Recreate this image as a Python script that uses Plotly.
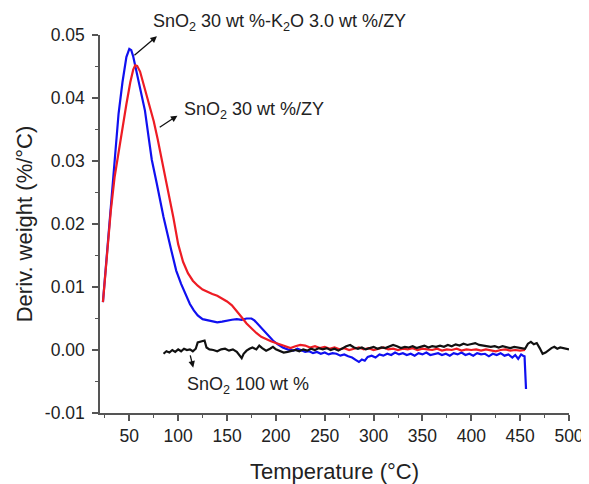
import plotly.graph_objects as go

# ---- data ----
blue_T = [23, 28, 32, 35, 39, 43, 47, 50, 52, 54, 57, 60, 63, 64, 66, 70, 73, 78, 85, 93, 98, 103, 108, 112, 116,
          120, 125, 130, 135, 140, 145, 150, 155, 160, 165, 170, 175, 178, 182, 187, 192, 197, 202, 207, 212, 218,
          222, 226, 230, 234, 238, 242, 246, 250, 254, 258, 262, 266, 270, 274, 278, 282, 285, 288, 291, 294, 298,
          302, 306, 310, 314, 318, 322, 326, 330, 334, 338, 342, 346, 350, 354, 358, 362, 366, 370, 374, 378, 382,
          386, 390, 394, 398, 402, 406, 410, 414, 418, 422, 426, 430, 434, 438, 442, 445, 448, 451, 453, 454.5, 456]
blue_v = [0.0076, 0.017, 0.025, 0.030, 0.0375, 0.0425, 0.0465, 0.0478, 0.0476, 0.0466, 0.0445, 0.0422, 0.0400,
          0.0395, 0.0380, 0.0335, 0.0302, 0.0265, 0.0211, 0.0158, 0.0126, 0.0105, 0.0086, 0.0073, 0.0063, 0.0055,
          0.0049, 0.0047, 0.0045, 0.0044, 0.0045, 0.0047, 0.0048, 0.0049, 0.0048, 0.0050, 0.0050, 0.0047, 0.0040,
          0.0031, 0.0022, 0.0015, 0.0009, 0.0004, 0.0001, -0.0001,
          0.0002, -0.0001, -0.0003, -0.0002, -0.0005, -0.0003, -0.0006, -0.0004, -0.0007, -0.0005, -0.0006, -0.0009,
          -0.0007, -0.0010, -0.0012, -0.0016, -0.0019, -0.0015, -0.0017, -0.0011, -0.0009, -0.0012, -0.0007,
          -0.0009, -0.0006, -0.0008, -0.0004, -0.0007, -0.0005, -0.0008, -0.0006, -0.0009, -0.0005, -0.0007,
          -0.0004, -0.0008, -0.0006, -0.0005, -0.0008, -0.0006, -0.0009, -0.0005, -0.0007, -0.0004, -0.0008,
          -0.0006, -0.0009, -0.0005, -0.0007, -0.0006, -0.0010, -0.0006, -0.0008, -0.0005, -0.0009, -0.0007,
          -0.0012, -0.0008, -0.0014, -0.0007, -0.0009, -0.0010, -0.0062]

red_T = [23, 27, 31, 35, 39, 43, 47, 51, 54, 56, 58, 61, 64, 67, 71, 75, 79, 83, 88, 95, 100, 105, 110, 115, 120,
         125, 130, 135, 140, 145, 150, 155, 160, 165, 170, 175, 180, 185, 190, 195, 200, 205, 210, 215, 220, 225,
         230, 235, 240, 245, 250, 255, 260, 265, 270, 275, 280, 285, 290, 295, 300, 305, 310, 315, 320, 325, 330,
         335, 340, 345, 350, 355, 360, 365, 370, 375, 380, 385, 390, 395, 400, 405, 410, 415, 420, 425, 430, 435,
         440, 445, 450, 455]
red_v = [0.0076, 0.015, 0.022, 0.0275, 0.0315, 0.0355, 0.039, 0.0425, 0.0445, 0.0452, 0.0451, 0.0442, 0.0425,
         0.0408, 0.0385, 0.0363, 0.0335, 0.0302, 0.0265, 0.0211, 0.0168, 0.0140, 0.0122, 0.0110, 0.0102, 0.0096,
         0.0092, 0.0089, 0.0086, 0.0082, 0.0077, 0.0071, 0.0062, 0.0052, 0.0042, 0.0034, 0.0027, 0.0021, 0.0017,
         0.0014, 0.0011, 0.0008, 0.0005, 0.0003, 0.0006, 0.0008,
         0.0007, 0.0004, 0.0006, 0.0003, 0.0005, 0.0002, 0.0004, 0.0001, 0.0003, 0.0000, 0.0002, 0.0004, 0.0001,
         0.0003, 0.0000, 0.0002, 0.0004, 0.0001, 0.0002, 0.0000, 0.0002, 0.0001, 0.0003, 0.0000, 0.0002, 0.0001,
         0.0000, 0.0002, -0.0001, 0.0001, 0.0000, 0.0002, -0.0001, 0.0001, 0.0000, 0.0001, -0.0001, 0.0001,
         0.0000, -0.0002, 0.0000, 0.0001, -0.0001, 0.0000, -0.0001, 0.0000]

black_T = [85, 88, 91, 94, 97, 100, 103, 106, 109, 112, 115, 118, 120, 124, 127, 129, 132, 136, 140, 144, 148, 152,
           156, 160, 163, 165, 167, 170, 173, 176, 180, 183, 186, 190, 194, 197, 200, 204, 208, 212, 216, 220,
           224, 228, 232, 236, 240, 244, 248, 252, 256, 260, 264, 268, 272, 276, 280, 284, 288, 292, 296, 300,
           304, 308, 312, 316, 320, 324, 328, 332, 336, 340, 344, 348, 352, 356, 360, 364, 368, 372, 376, 380,
           384, 388, 392, 396, 400, 404, 408, 412, 416, 420, 424, 428, 432, 436, 440, 444, 448, 452, 455, 458,
           461, 464, 467, 470, 473, 476, 479, 482, 485, 488, 491, 494, 497, 500]
black_v = [-0.0006, -0.0002, -0.0004, 0.0000, -0.0003, 0.0001, -0.0002, 0.0002, 0.0000, 0.0001, -0.0002, 0.0002,
           0.0012, 0.0014, 0.0015, 0.0004, 0.0001, 0.0000, -0.0002, 0.0001, 0.0002, -0.0001, 0.0001, -0.0003,
           -0.0010, -0.0013, -0.0006, -0.0001, 0.0002, 0.0004, 0.0001, 0.0007, 0.0003, -0.0001, 0.0002, 0.0005,
           0.0001, -0.0001, -0.0004, -0.0003, -0.0002, 0.0000,
           -0.0002, 0.0001, -0.0001, 0.0002, 0.0000, 0.0003, 0.0001, 0.0003, 0.0000, 0.0002, -0.0001, 0.0003,
           0.0006, 0.0008, 0.0004, 0.0002, 0.0004, 0.0001, 0.0003, 0.0005, 0.0002, 0.0004, 0.0003, 0.0005, 0.0008,
           0.0006, 0.0003, 0.0005, 0.0004, 0.0006, 0.0003, 0.0005, 0.0007, 0.0004, 0.0006, 0.0005, 0.0007, 0.0005,
           0.0008, 0.0006, 0.0009, 0.0007, 0.0010, 0.0008, 0.0009, 0.0011, 0.0008, 0.0007, 0.0006, 0.0005, 0.0006,
           0.0004, 0.0006, 0.0005, 0.0003, 0.0005, 0.0004, 0.0003, 0.0002, 0.0010, 0.0013, 0.0009, 0.0011, 0.0003,
           -0.0006, -0.0004, 0.0000, 0.0003, 0.0005, 0.0002, 0.0004, 0.0003, 0.0001, 0.0001]

x_tick_vals = [50, 100, 150, 200, 250, 300, 350, 400, 450, 500]
y_tick_vals = [-0.01, 0.00, 0.01, 0.02, 0.03, 0.04, 0.05]
y_tick_labels = ["-0.01", "0.00", "0.01", "0.02", "0.03", "0.04", "0.05"]

label_blue = "SnO<sub>2</sub> 30 wt %-K<sub>2</sub>O 3.0 wt %/ZY"
label_red = "SnO<sub>2</sub> 30 wt %/ZY"
label_black = "SnO<sub>2</sub> 100 wt %"

FONT = "Arial, Liberation Sans, sans-serif"
AX = "#555555"

fig = go.Figure()
fig.add_trace(go.Scatter(x=blue_T, y=blue_v, mode="lines", line=dict(color="#1010f0", width=2.2)))
fig.add_trace(go.Scatter(x=red_T, y=red_v, mode="lines", line=dict(color="#ee1c24", width=2.2)))
fig.add_trace(go.Scatter(x=black_T, y=black_v, mode="lines", line=dict(color="#111111", width=2.2)))

arrow = dict(showarrow=True, arrowhead=2, arrowsize=1, arrowwidth=1.3, arrowcolor="#111111",
             axref="x", ayref="y", xref="x", yref="y", text="")
fig.add_annotation(x=78.3, y=0.0498, ax=53.7, ay=0.0466, **arrow)
fig.add_annotation(x=99.2, y=0.0372, ax=79.6, ay=0.0352, **arrow)
fig.add_annotation(x=115.4, y=-0.0028, ax=112, ay=-0.0006, **arrow)

txt = dict(showarrow=False, xanchor="left", yanchor="middle", xref="x",
           font=dict(family=FONT, size=18, color="#222222"))
fig.add_annotation(x=72.5, y=1.032, yref="paper", text=label_blue, **txt)
fig.add_annotation(x=104, y=0.0380, yref="y", text=label_red, **txt)
fig.add_annotation(x=107.5, y=-0.0057, yref="y", text=label_black, **txt)

# the page body adds an 8px offset, so the figure is sized to fit the window exactly
fig.update_layout(
    width=581, height=476,
    margin=dict(l=92, r=20, t=27, b=71),
    paper_bgcolor="white", plot_bgcolor="white",
    showlegend=False,
    font=dict(family=FONT, size=17.5, color="#222222"),
)
fig.update_xaxes(
    range=[20, 500], tickvals=x_tick_vals, showgrid=False, zeroline=False, automargin=False,
    showline=True, linecolor=AX, linewidth=1.5,
    ticks="outside", ticklen=6, tickwidth=1.5, tickcolor=AX,
    minor=dict(ticks="outside", ticklen=3.5, tickwidth=1.3, tickcolor=AX, dtick=25, tick0=25, showgrid=False),
    tickfont=dict(family=FONT, size=17.5, color="#222222"),
    title=dict(text="Temperature (°C)", font=dict(family=FONT, size=22, color="#222222"), standoff=19),
)
fig.update_yaxes(
    range=[-0.01, 0.05], tickvals=y_tick_vals, ticktext=y_tick_labels, showgrid=False, zeroline=False,
    automargin=False, ticklabelstandoff=4,
    showline=True, linecolor=AX, linewidth=1.5,
    ticks="outside", ticklen=6, tickwidth=1.5, tickcolor=AX,
    minor=dict(ticks="outside", ticklen=3.5, tickwidth=1.3, tickcolor=AX, dtick=0.005, tick0=0.005, showgrid=False),
    tickfont=dict(family=FONT, size=17.5, color="#222222"),
    title=dict(text="Deriv. weight (%/°C)", font=dict(family=FONT, size=22, color="#222222"), standoff=6),
)

fig.write_html("out.html")
